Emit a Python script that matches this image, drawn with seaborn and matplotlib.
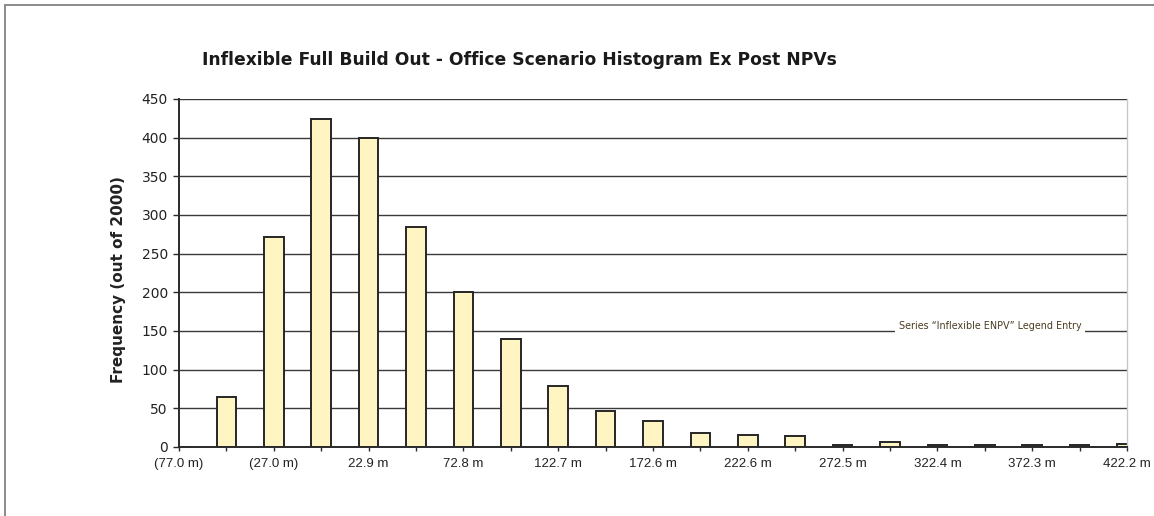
import numpy as np
import pandas as pd
import matplotlib
matplotlib.use("Agg")
import matplotlib.pyplot as plt
from matplotlib.patches import Rectangle
import seaborn as sns

# Histogram of ex post NPVs (2000 simulation runs), one count per bin
counts = [0, 65, 272, 424, 399, 285, 200, 140, 79, 46, 34,
          18, 15, 14, 3, 6, 2, 3, 2, 2, 4]
# Bin labels shown on every other bin
tick_labels = ["(77.0 m)", "(27.0 m)", "22.9 m", "72.8 m", "122.7 m",
               "172.6 m", "222.6 m", "272.5 m", "322.4 m", "372.3 m", "422.2 m"]
y_ticks = [0, 50, 100, 150, 200, 250, 300, 350, 400, 450]

title = "Inflexible Full Build Out - Office Scenario Histogram Ex Post NPVs"
y_label = "Frequency (out of 2000)"
legend_text = "Series \u201cInflexible ENPV\u201d Legend Entry"

sns.set_style("white")
plt.rcParams["font.family"] = ["Liberation Sans", "DejaVu Sans"]

df = pd.DataFrame({"bin": np.arange(len(counts)), "count": counts})

fig = plt.figure(figsize=(11.54, 5.16), dpi=100)
ax = fig.add_axes([179 / 1154, 1 - 447 / 516, (1127 - 179) / 1154, (447 - 99) / 516])

sns.barplot(data=df, x="bin", y="count", ax=ax, color="#FFF5C3",
            edgecolor="#262626", linewidth=1.4, width=0.41, saturation=1)

ax.set_xlim(0, len(counts) - 1)
ax.set_ylim(0, 450)
ax.set_yticks(y_ticks)
ax.set_yticklabels([str(v) for v in y_ticks], fontsize=10, color="#222222",
                   family=["DejaVu Sans"])

xt_labels = []
for i in range(len(counts)):
    xt_labels.append(tick_labels[i // 2] if i % 2 == 0 else "")
ax.set_xticks(range(len(counts)))
ax.set_xticklabels(xt_labels, fontsize=9.5, color="#222222")

ax.set_xlabel("")
ax.set_ylabel(y_label, fontsize=11, fontweight="bold", color="#222222",
              family=["DejaVu Sans"])
ax.yaxis.set_label_coords(-0.0555, 0.48)

ax.grid(axis="y", color="#3a3a3a", linewidth=1.0)
ax.grid(axis="x", visible=False)
ax.set_axisbelow(True)

for side in ["left", "bottom"]:
    ax.spines[side].set_color("#2a2a2a")
    ax.spines[side].set_linewidth(1.4)
ax.spines["top"].set_visible(False)
ax.spines["right"].set_color("#c8c8c8")
ax.spines["right"].set_linewidth(1.0)

ax.tick_params(axis="y", direction="out", length=4, width=1.0, color="#2a2a2a", pad=4, left=True)
ax.tick_params(axis="x", direction="out", length=3, width=1.0, color="#2a2a2a", pad=5, bottom=True)

fig.text(202 / 1154, 1 - 60 / 516, title, fontsize=12.3, fontweight="bold",
         color="#1a1a1a", ha="left", va="center", family=["DejaVu Sans"])

# Legend entry placeholder sitting on the 150 gridline
fig.text(990 / 1154, 1 - 326 / 516, legend_text, fontsize=6.9, color="#4a3c22",
         ha="center", va="center", family=["DejaVu Sans"],
         bbox=dict(facecolor="white", edgecolor="none", pad=2.5))

# Outer chart frame
fig.add_artist(Rectangle((5 / 1154, -0.1), 1.2, 1 - 4.5 / 516 + 0.1,
                         transform=fig.transFigure, fill=False,
                         edgecolor="#8a8a8a", linewidth=1.4))

fig.savefig("out.png", dpi=100)
